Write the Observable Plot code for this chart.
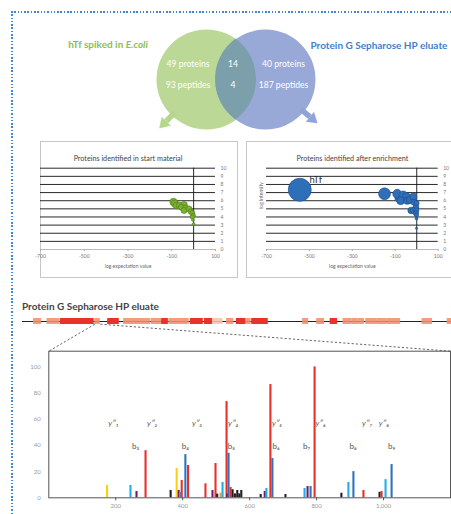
<!DOCTYPE html>
<html><head><meta charset="utf-8">
<script src="https://cdn.jsdelivr.net/npm/d3@7"></script>
<script src="https://cdn.jsdelivr.net/npm/@observablehq/plot@0.6"></script>
<style>
body{margin:0;background:#fff;font-family:Lato,sans-serif;}
#page{position:relative;width:451px;height:514px;overflow:hidden;background:#fff;}
#page svg{overflow:visible;}
.box{position:absolute;border:1px solid #c6c6c6;box-sizing:border-box;}
.hdot{position:absolute;height:1.5px;background:repeating-linear-gradient(to right,#3f86d6 0 1.5px,transparent 1.5px 3.3px);}
.vdot{position:absolute;width:1.5px;background:repeating-linear-gradient(to bottom,#3f86d6 0 1.5px,transparent 1.5px 3.3px);}
.ttl{position:absolute;font-weight:bold;font-size:10px;color:#444;white-space:nowrap;}
</style></head><body><div id="page"></div>
<script>
// ---------------- DATA ----------------
const vennTitleLeft = ["hTf spiked in", "E.coli"];
const vennTitleRight = "Protein G Sepharose HP eluate";
const vennProteins = [49, 14, 40];
const vennPeptides = [93, 4, 187];

const startTitle = "Proteins identified in start material";
const startLogE = [-92, -85, -78, -64, -44, -56, -37, -44, -21, -14, -6, -1.5, -6, -3, 0];
const startLogI = [5.85, 5.65, 5.4, 5.4, 5.5, 5.2, 5.1, 4.8, 5.0, 4.67, 4.47, 4.2, 4.0, 3.65, 3.1];
const startSize = [6, 6, 5, 5, 5, 4, 4, 4, 4, 3, 3, 2, 2, 1, 1];

const enrichTitle = "Proteins identified after enrichment";
const enrichLogE = [-545, -150, -91, -79, -63, -48, -75, -44, -32, -16, -13, -1, -4, -26, -16, -2, -4, -1, -1, -1];
const enrichLogI = [7.35, 6.85, 6.85, 6.35, 6.65, 6.5, 6.0, 6.0, 6.1, 6.5, 5.8, 5.7, 5.2, 4.8, 4.8, 4.8, 4.45, 4.25, 3.8, 2.6];
const enrichSize = [60, 16, 9, 11, 9, 7, 7, 6, 6, 6, 4, 3, 4, 5, 4, 3, 3, 2, 1, 0.6];
const enrichNames = ["hTf"];

const eluateTitle = "Protein G Sepharose HP eluate";
const covStart = [18, 40, 62, 118, 139, 165, 210, 227, 239, 274, 297, 310, 333, 349, 364, 374, 457, 480, 502, 523, 538, 547, 560, 579, 595, 652, 693];
const covEnd   = [31, 61, 117, 127, 158, 209, 227, 238, 272, 295, 310, 327, 345, 364, 373, 401, 467, 493, 514, 538, 547, 558, 579, 595, 617, 669, 705];
const covLevel = ["mid", "mid", "high", "mid", "high", "mid", "mid", "high", "mid", "high", "high", "low", "mid", "high", "mid", "high", "mid", "mid", "high", "mid", "mid", "mid", "mid", "mid", "mid", "mid", "mid"];
const zoomedBlock = 3;

const specMz  = [174, 244, 262, 289, 364, 382, 388, 392, 397, 408, 416, 468, 489, 498, 503, 513, 519, 531, 533, 537, 543, 549, 556, 563, 569, 575, 633, 645, 650, 662, 668, 707, 764, 773, 782, 794, 874, 895, 910, 940, 988, 994, 1006, 1024];
const specInt = [9.4, 9.4, 4.8, 36, 5.6, 22.4, 5.6, 4, 13.2, 33, 24.7, 10.7, 5.6, 26.2, 2.8, 3.5, 11.7, 73.5, 3, 34, 7.9, 6.2, 3, 5.6, 3, 5.6, 2.5, 4.8, 7.1, 86.5, 30, 2.5, 7.1, 8.6, 8.6, 100, 3.5, 11.7, 20, 5.6, 4.2, 4.8, 13.9, 25.4];
const specIon = ["imm", "a", "bH2O", "y", "int", "imm", "bH2O", "a", "y", "b", "y", "y", "bH2O", "y", "int", "yNH3", "a", "y", "bH2O", "b", "y", "int", "int", "int", "int", "int", "int", "bH2O", "a", "y", "b", "int", "a", "bH2O", "b", "y", "int", "a", "b", "y", "int", "y", "a", "b"];
const ionTypes = ["y", "b", "a", "imm", "bH2O", "yNH3", "int"];
const yIonLabels = ["y″₁", "y″₂", "y″₃", "y″₄", "y″₅", "y″₆", "y″₇", "y″₈"];
const yIonMz = [193, 309, 443, 551, 682, 812, 951, 1001];
const bIonLabels = ["b₃", "b₄", "b₅", "b₆", "b₇", "b₈", "b₉"];
const bIonMz = [259, 408, 545, 679, 770, 909, 1024];
const xTicksSpec = [200, 400, 600, 800, 1000];
const yTicksSpec = [0, 20, 40, 60, 80, 100];

// ---------------- STYLE ----------------
const GREEN = "#bcd897", BLUE = "#98a9d8", OVER = "#7ba0ab";
const GREEN_T = "#8cc04c", BLUE_T = "#3f7fcb";
const ionColors = ["#e8302a", "#2e73bf", "#1eaeea", "#f7d117", "#6e1d6e", "#f0a02c", "#231f20"];
const FONT = "Lato, sans-serif";

const page = document.getElementById("page");
function place(node, left, top) {
  node.style.position = "absolute"; node.style.left = left + "px"; node.style.top = top + "px";
  page.appendChild(node); return node;
}
function div(cls, css) { const d = document.createElement("div"); d.className = cls; Object.assign(d.style, css); page.appendChild(d); return d; }

// dotted page border
div("hdot", {left: "11px", top: "11px", width: "440px"});
div("vdot", {left: "11px", top: "11px", height: "503px"});

// ---------------- VENN ----------------
const R = 50, VW = 451, VH = 140, VCX = 235.5, VCY = 79, sep = 0.59;
const lens = d3.range(0, 81).map(i => {
  const u = -(1 - sep) + i * (2 * (1 - sep)) / 80;
  const h = Math.sqrt(Math.max(0, 1 - (Math.abs(u) + sep) ** 2));
  return {u, y1: -h, y2: h};
});
const regionX = [-sep - 0.37, -0.06, sep + 0.36];
function arrow(cx, deg, color) {
  const t = deg * Math.PI / 180;
  const a = {x1: cx + 0.92 * Math.cos(t), y1: 0.92 * Math.sin(t), x2: cx + 1.16 * Math.cos(t), y2: 1.16 * Math.sin(t), rot: 90 - deg};
  return [
    Plot.link([a], {x1: "x1", y1: "y1", x2: "x2", y2: "y2", stroke: color, strokeWidth: 5.5, strokeLinecap: "butt"}),
    Plot.vector([a], {x: "x2", y: "y2", rotate: "rot", length: 9.5, r: 6, shape: "spike", anchor: "start", fill: color, stroke: color, strokeWidth: 0.5})
  ];
}
const venn = Plot.plot({
  width: VW, height: VH, margin: 0,
  x: {domain: [-VCX / R, (VW - VCX) / R], axis: null},
  y: {domain: [-(VH - VCY) / R, VCY / R], axis: null},
  style: {fontFamily: FONT, background: "transparent", overflow: "visible"},
  marks: [
    Plot.dot([-sep], {x: d => d, y: 0, r: R, fill: GREEN, stroke: "none"}),
    Plot.dot([sep], {x: d => d, y: 0, r: R, fill: BLUE, stroke: "none"}),
    Plot.areaY(lens, {x: "u", y1: "y1", y2: "y2", fill: OVER, curve: "linear"}),
    ...arrow(-sep, -134, "#b6d68c"),
    ...arrow(sep, -40, "#8fa3d6"),
    Plot.text(vennProteins, {x: (d, i) => regionX[i], y: 0.31, text: (d, i) => i === 1 ? String(d) : d + " proteins", fill: "white", fontSize: 8.6}),
    Plot.text(vennPeptides, {x: (d, i) => regionX[i], y: -0.12, text: (d, i) => i === 1 ? String(d) : d + " peptides", fill: "white", fontSize: 8.6}),
    Plot.text([vennTitleLeft[0]], {x: -2.23, y: 0.69, text: d => d, textAnchor: "end", dx: -1.2, fill: GREEN_T, fontWeight: "bold", fontSize: 10}),
    Plot.text([vennTitleLeft[1]], {x: -2.23, y: 0.69, text: d => d, textAnchor: "start", dx: 1.2, fill: GREEN_T, fontWeight: "bold", fontStyle: "italic", fontSize: 10}),
    Plot.text([vennTitleRight], {x: 1.49, y: 0.68, text: d => d, textAnchor: "start", fill: BLUE_T, fontWeight: "bold", fontSize: 10})
  ]
});
place(venn, 0, 0);

// ---------------- SCATTER PANELS ----------------
function scatter(o) {
  const data = o.logE.map((x, i) => ({x, y: o.logI[i], s: o.size[i]}));
  return Plot.plot({
    width: o.width, height: 136, marginLeft: 20, marginRight: o.mr, marginTop: 26.7, marginBottom: 28,
    x: {domain: [-700, 100]}, y: {domain: [0, 10]},
    r: {type: "sqrt", domain: [0, 60], range: [0, 11.5]},
    style: {fontFamily: FONT, fontSize: "5px", background: "transparent", overflow: "visible", color: "#777"},
    marks: [
      Plot.ruleY(d3.range(1, 11), {stroke: "#111", strokeWidth: 0.9}),
      Plot.ruleY([0], {stroke: "#aaa", strokeWidth: 0.8}),
      Plot.ruleX([0], {stroke: "#111", strokeWidth: 0.9}),
      Plot.axisX({ticks: [-700, -500, -300, -100, 100], tickSize: 2, tickPadding: 2.5, label: null, stroke: "#aaa", fill: "#777", tickFormat: d => String(d).replace("−", "-")}),
      Plot.axisY({anchor: "right", ticks: d3.range(0, 11), tickSize: 0, tickPadding: 5, label: null, fill: "#777"}),
      Plot.dot(data, {x: "x", y: "y", r: "s", fill: o.fill, stroke: o.stroke, strokeWidth: 0.6}),
      Plot.text([o.title], {frameAnchor: "top", dy: -12.7, text: d => d, fontSize: 7.2, fill: "#444"}),
      Plot.text(["log expectation value"], {frameAnchor: "bottom", dy: 18.5, text: d => d, fontSize: 5, fill: "#666"}),
      ...(o.extra || [])
    ]
  });
}
div("box", {left: "40px", top: "141px", width: "198px", height: "137px"});
div("box", {left: "246px", top: "141px", width: "230px", height: "137px"});
place(scatter({logE: startLogE, logI: startLogI, size: startSize, title: startTitle, fill: "#7cb02e", stroke: "#4c7a1b", width: 217, mr: 22}), 20, 141);
place(scatter({logE: enrichLogE, logI: enrichLogI, size: enrichSize, title: enrichTitle, fill: "#2f6fb8", stroke: "#1b4c8a", width: 206, mr: 14.3,
  extra: [
    Plot.text(enrichNames, {x: -500, y: 8.57, text: d => d, textAnchor: "start", fontSize: 9.5, fill: "#333"}),
    Plot.text(["log intensity"], {frameAnchor: "left", dx: -5, rotate: -90, text: d => d, fontSize: 5, fill: "#666"})
  ]}), 246, 141);

// ---------------- SEQUENCE COVERAGE ----------------
const tl = document.createElement("div"); tl.className = "ttl"; tl.textContent = eluateTitle; tl.style.left = "22px"; tl.style.top = "300px"; page.appendChild(tl);
const cov = covStart.map((s, i) => ({s, e: covEnd[i], lvl: covLevel[i]}));
const covPlot = Plot.plot({
  width: 451, height: 20, marginLeft: 22, marginRight: 0, marginTop: 0, marginBottom: 0,
  x: {domain: [0, 700], axis: null}, y: {domain: [-1.667, 1.667], axis: null},
  color: {domain: ["high", "mid", "low"], range: ["#e8322a", "#f0906f", "#f7c2ac"]},
  style: {background: "transparent", overflow: "visible"},
  marks: [
    Plot.ruleY([0], {stroke: "#222", strokeWidth: 1}),
    Plot.rect(cov.filter(d => d.lvl !== "high"), {x1: "s", x2: "e", y1: -0.5, y2: 0.5, fill: "lvl", fillOpacity: 0.88}),
    Plot.rect(cov.filter(d => d.lvl === "high"), {x1: "s", x2: "e", y1: -0.5, y2: 0.5, fill: "lvl"})
  ]
});
place(covPlot, 0, 310.7);

// ---------------- SPECTRUM ----------------
const spec = specMz.map((mz, i) => ({mz, v: specInt[i], ion: specIon[i]}));
const SPEC_TOP = 345;
const specPlot = Plot.plot({
  width: 451, height: 169, marginLeft: 48.3, marginRight: 1, marginTop: 5.7, marginBottom: 16.7,
  x: {domain: [0, 1200]}, y: {domain: [0, 112]},
  color: {domain: ionTypes, range: ionColors},
  style: {fontFamily: FONT, fontSize: "6px", background: "transparent", overflow: "visible", color: "#555"},
  marks: [
    Plot.ruleX(spec, {x: "mz", y1: 0, y2: "v", stroke: "ion", strokeWidth: 2.1}),
    Plot.frame({stroke: "#555", strokeWidth: 1}),
    Plot.axisX({ticks: xTicksSpec, tickSize: 3, tickPadding: 3, label: null, fill: "#999", stroke: "#555"}),
    Plot.axisY({ticks: yTicksSpec, tickSize: 0, tickPadding: 8, label: null, fill: "#999"}),
    Plot.text(yIonLabels, {x: (d, i) => yIonMz[i], y: 56.7, text: d => d, fontSize: 8, fontStyle: "italic", fill: "#555"}),
    Plot.text(bIonLabels, {x: (d, i) => bIonMz[i], y: 39, text: d => d, fontSize: 8, fill: "#555"})
  ]
});
place(specPlot, 0, SPEC_TOP);

// ---------------- ZOOM CONNECTORS ----------------
const cx = covPlot.scale("x"), sx = specPlot.scale("x"), sy = specPlot.scale("y");
const covBottom = 310.7 + covPlot.scale("y").apply(-0.5);
const fTop = SPEC_TOP + sy.apply(112);
const links = [
  {x1: cx.apply(covStart[zoomedBlock]), y1: covBottom, x2: sx.apply(0), y2: fTop},
  {x1: cx.apply(covEnd[zoomedBlock]), y1: covBottom, x2: sx.apply(1200), y2: fTop}
];
const overlay = Plot.plot({
  width: 451, height: 514, margin: 0,
  x: {type: "identity", axis: null}, y: {type: "identity", axis: null},
  style: {background: "transparent", overflow: "visible", pointerEvents: "none"},
  marks: [Plot.link(links, {x1: "x1", y1: "y1", x2: "x2", y2: "y2", stroke: "#555", strokeWidth: 0.9, strokeDasharray: "2.2,2"})]
});
place(overlay, 0, 0);
</script>
</body></html>
